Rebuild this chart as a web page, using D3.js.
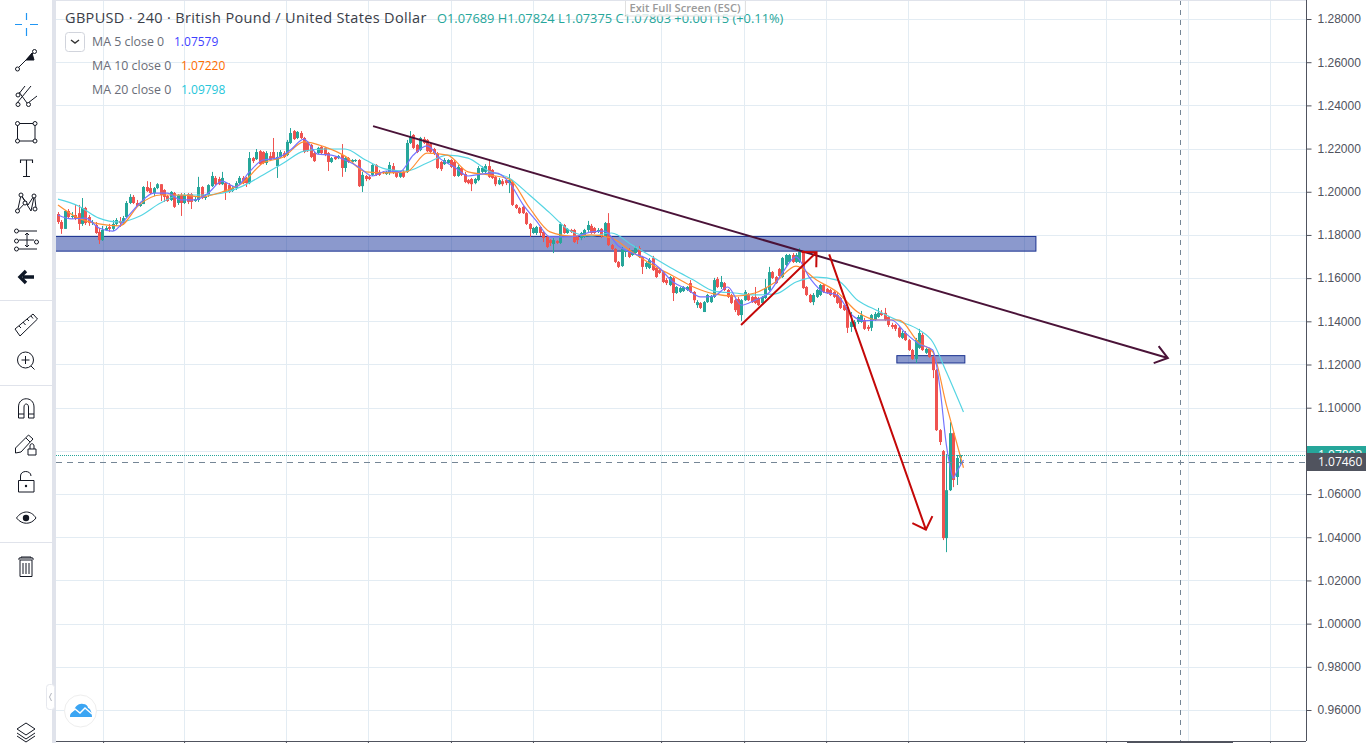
<!DOCTYPE html>
<html>
<head>
<meta charset="utf-8">
<title>GBPUSD 240</title>
<script src="https://cdn.jsdelivr.net/npm/d3@7/dist/d3.min.js"></script>
<style>
    html, body { margin: 0; padding: 0; background: #fff; overflow: hidden; }
    svg { display: block; font-family: "Open Sans", sans-serif; }
</style>
</head>
<body>
<div id="chart"></div>
<script>
// 4H candles, oldest first
var opens = [
    1.1897,1.1860,1.1828,1.1911,1.1883,1.1892,1.1901,1.1851,1.1925,1.1883,
    1.1855,1.1846,1.1814,1.1776,1.1823,1.1837,1.1828,1.1851,1.1865,1.1855,
    1.1883,1.1948,1.1976,1.1948,1.1934,1.1943,1.2022,1.2017,1.1994,1.2017,
    1.2035,1.2008,1.1980,1.1962,1.1994,1.1948,1.1985,1.1948,1.1989,1.1989,
    1.1957,1.1962,1.2022,1.1971,1.1985,1.2026,1.2064,1.2059,1.2035,1.2040,
    1.2031,1.2003,1.2017,1.2040,1.2064,1.2064,1.2040,1.2156,1.2151,1.2188,
    1.2184,1.2133,1.2165,1.2184,1.2119,1.2161,1.2179,1.2170,1.2226,1.2281,
    1.2249,1.2272,1.2249,1.2231,1.2217,1.2179,1.2179,1.2208,1.2203,1.2179,
    1.2138,1.2161,1.2156,1.2170,1.2110,1.2156,1.2138,1.2142,1.2147,1.2026,
    1.2073,1.2069,1.2078,1.2124,1.2092,1.2092,1.2082,1.2087,1.2119,1.2092,
    1.2069,1.2092,1.2092,1.2226,1.2263,1.2217,1.2193,1.2244,1.2240,1.2221,
    1.2198,1.2179,1.2138,1.2128,1.2133,1.2147,1.2138,1.2073,1.2110,1.2082,
    1.2054,1.2059,1.2040,1.2054,1.2092,1.2092,1.2119,1.2101,1.2069,1.2035,
    1.2049,1.2054,1.2040,1.2045,1.1939,1.1925,1.1930,1.1901,1.1851,1.1809,
    1.1809,1.1837,1.1814,1.1791,1.1776,1.1758,1.1772,1.1763,1.1846,1.1809,
    1.1823,1.1823,1.1791,1.1786,1.1791,1.1823,1.1842,1.1832,1.1818,1.1828,
    1.1795,1.1855,1.1753,1.1735,1.1675,1.1656,1.1721,1.1730,1.1707,1.1716,
    1.1739,1.1698,1.1652,1.1647,1.1693,1.1647,1.1637,1.1628,1.1591,1.1568,
    1.1601,1.1531,1.1536,1.1540,1.1545,1.1577,1.1536,1.1475,1.1485,1.1443,
    1.1489,1.1489,1.1513,1.1596,1.1559,1.1577,1.1545,1.1522,1.1498,1.1503,
    1.1429,1.1498,1.1522,1.1513,1.1513,1.1508,1.1485,1.1508,1.1545,1.1628,
    1.1605,1.1642,1.1605,1.1661,1.1675,1.1707,1.1675,1.1675,1.1721,1.1559,
    1.1522,1.1489,1.1513,1.1522,1.1568,1.1550,1.1545,1.1536,1.1522,1.1508,
    1.1475,1.1466,1.1374,1.1374,1.1397,1.1397,1.1406,1.1374,1.1370,1.1406,
    1.1420,1.1439,1.1439,1.1420,1.1383,1.1383,1.1370,1.1323,1.1346,1.1313,
    1.1267,1.1226,1.1277,1.1337,1.1254,1.1272,1.1235,1.1174,1.0896,1.0799,
    1.0396,1.0618,1.0882,1.0679,1.07689
];
var highs = [
    1.1906,1.1869,1.1915,1.1920,1.1906,1.1939,1.1939,1.1971,1.1930,1.1892,
    1.1869,1.1860,1.1832,1.1842,1.1842,1.1851,1.1869,1.1878,1.1883,1.1888,
    1.1957,1.1989,1.1985,1.1962,1.1953,1.2026,1.2049,1.2045,1.2022,1.2040,
    1.2035,1.2012,1.1985,1.2003,1.1999,1.1989,1.1994,1.1994,1.1994,1.1994,
    1.1976,1.2069,1.2026,1.1989,1.2035,1.2092,1.2073,1.2069,1.2092,1.2045,
    1.2040,1.2026,1.2049,1.2073,1.2073,1.2069,1.2184,1.2161,1.2198,1.2193,
    1.2188,1.2188,1.2184,1.2249,1.2184,1.2193,1.2188,1.2240,1.2295,1.2286,
    1.2281,1.2281,1.2254,1.2235,1.2221,1.2184,1.2208,1.2212,1.2208,1.2184,
    1.2161,1.2165,1.2170,1.2221,1.2165,1.2161,1.2151,1.2151,1.2151,1.2092,
    1.2078,1.2078,1.2128,1.2128,1.2101,1.2096,1.2096,1.2138,1.2133,1.2101,
    1.2092,1.2101,1.2240,1.2281,1.2267,1.2221,1.2254,1.2254,1.2244,1.2226,
    1.2203,1.2184,1.2142,1.2156,1.2151,1.2151,1.2147,1.2124,1.2115,1.2092,
    1.2059,1.2064,1.2064,1.2119,1.2119,1.2128,1.2147,1.2105,1.2073,1.2064,
    1.2059,1.2059,1.2082,1.2054,1.1943,1.1930,1.1934,1.1906,1.1855,1.1837,
    1.1842,1.1842,1.1818,1.1795,1.1781,1.1786,1.1776,1.1860,1.1851,1.1832,
    1.1828,1.1828,1.1795,1.1814,1.1828,1.1865,1.1851,1.1837,1.1832,1.1832,
    1.1860,1.1901,1.1758,1.1739,1.1679,1.1744,1.1730,1.1739,1.1730,1.1749,
    1.1749,1.1703,1.1675,1.1693,1.1703,1.1652,1.1642,1.1633,1.1601,1.1610,
    1.1605,1.1563,1.1559,1.1563,1.1563,1.1591,1.1540,1.1498,1.1489,1.1494,
    1.1527,1.1522,1.1601,1.1605,1.1610,1.1582,1.1550,1.1527,1.1503,1.1513,
    1.1503,1.1545,1.1531,1.1517,1.1559,1.1513,1.1517,1.1596,1.1652,1.1633,
    1.1610,1.1647,1.1698,1.1712,1.1712,1.1716,1.1716,1.1739,1.1730,1.1563,
    1.1527,1.1531,1.1550,1.1573,1.1573,1.1554,1.1550,1.1540,1.1531,1.1513,
    1.1480,1.1475,1.1443,1.1406,1.1429,1.1448,1.1416,1.1383,1.1434,1.1443,
    1.1462,1.1452,1.1462,1.1425,1.1393,1.1388,1.1379,1.1355,1.1355,1.1318,
    1.1272,1.1323,1.1365,1.1346,1.1277,1.1277,1.1240,1.1179,1.0901,1.0804,
    1.0785,1.0933,1.0887,1.0781,1.07824
];
var lows = [
    1.1851,1.1805,1.1828,1.1878,1.1874,1.1869,1.1823,1.1842,1.1846,1.1842,
    1.1846,1.1805,1.1758,1.1772,1.1818,1.1814,1.1818,1.1842,1.1837,1.1846,
    1.1878,1.1943,1.1943,1.1930,1.1930,1.1943,1.1999,1.1989,1.1980,1.2012,
    1.1957,1.1953,1.1953,1.1957,1.1925,1.1939,1.1888,1.1943,1.1943,1.1920,
    1.1953,1.1953,1.1966,1.1962,1.1976,1.2022,1.2031,1.2031,1.2031,1.1962,
    1.1994,1.1999,1.2008,1.2035,1.2035,1.2022,1.2035,1.2133,1.2147,1.2124,
    1.2128,1.2124,1.2142,1.2151,1.2064,1.2156,1.2156,1.2165,1.2221,1.2240,
    1.2244,1.2244,1.2179,1.2184,1.2156,1.2138,1.2174,1.2170,1.2165,1.2096,
    1.2133,1.2147,1.2151,1.2069,1.2092,1.2133,1.2133,1.2138,1.2022,1.1999,
    1.2049,1.2054,1.2073,1.2073,1.2073,1.2082,1.2078,1.2078,1.2082,1.2064,
    1.2064,1.2064,1.2087,1.2221,1.2198,1.2179,1.2188,1.2221,1.2184,1.2179,
    1.2170,1.2105,1.2096,1.2124,1.2128,1.2110,1.2069,1.2069,1.2073,1.2040,
    1.2035,1.2003,1.2035,1.2049,1.2087,1.2087,1.2064,1.2059,1.2026,1.2031,
    1.2026,1.2031,1.1994,1.1934,1.1920,1.1897,1.1897,1.1846,1.1791,1.1805,
    1.1800,1.1795,1.1767,1.1739,1.1749,1.1716,1.1758,1.1758,1.1805,1.1805,
    1.1809,1.1763,1.1758,1.1776,1.1786,1.1814,1.1805,1.1805,1.1809,1.1786,
    1.1791,1.1749,1.1730,1.1670,1.1647,1.1652,1.1698,1.1693,1.1703,1.1712,
    1.1693,1.1619,1.1642,1.1642,1.1633,1.1601,1.1619,1.1577,1.1568,1.1563,
    1.1494,1.1527,1.1531,1.1536,1.1540,1.1531,1.1485,1.1462,1.1457,1.1443,
    1.1485,1.1485,1.1508,1.1554,1.1550,1.1540,1.1508,1.1480,1.1443,1.1425,
    1.1402,1.1494,1.1494,1.1485,1.1480,1.1471,1.1480,1.1503,1.1540,1.1596,
    1.1573,1.1605,1.1601,1.1656,1.1670,1.1670,1.1670,1.1670,1.1550,1.1517,
    1.1485,1.1475,1.1508,1.1517,1.1531,1.1527,1.1517,1.1508,1.1480,1.1457,
    1.1448,1.1346,1.1351,1.1365,1.1388,1.1393,1.1360,1.1355,1.1355,1.1402,
    1.1416,1.1425,1.1402,1.1374,1.1365,1.1355,1.1323,1.1318,1.1309,1.1263,
    1.1221,1.1207,1.1272,1.1263,1.1249,1.1231,1.1137,1.0892,1.0827,1.0387,
    1.0331,1.0614,1.0632,1.0642,1.07375
];
var closes = [
    1.1860,1.1828,1.1911,1.1883,1.1888,1.1874,1.1851,1.1925,1.1855,1.1855,
    1.1860,1.1809,1.1776,1.1823,1.1832,1.1828,1.1851,1.1869,1.1855,1.1878,
    1.1948,1.1976,1.1948,1.1934,1.1943,1.2022,1.2003,1.1994,1.2017,1.2035,
    1.1985,1.1976,1.1957,1.1999,1.1930,1.1985,1.1948,1.1985,1.1953,1.1953,
    1.1966,1.2022,1.1971,1.1980,1.2031,1.2073,1.2035,1.2035,1.2064,1.1999,
    1.1999,1.2017,1.2040,1.2064,1.2040,1.2040,1.2156,1.2142,1.2184,1.2128,
    1.2133,1.2179,1.2147,1.2156,1.2161,1.2184,1.2161,1.2231,1.2272,1.2244,
    1.2277,1.2249,1.2184,1.2188,1.2161,1.2142,1.2203,1.2179,1.2170,1.2138,
    1.2156,1.2151,1.2165,1.2110,1.2156,1.2138,1.2147,1.2147,1.2026,1.2078,
    1.2059,1.2059,1.2124,1.2078,1.2078,1.2087,1.2092,1.2124,1.2087,1.2069,
    1.2087,1.2069,1.2226,1.2254,1.2203,1.2184,1.2249,1.2226,1.2188,1.2184,
    1.2179,1.2110,1.2105,1.2147,1.2147,1.2115,1.2073,1.2115,1.2078,1.2045,
    1.2040,1.2035,1.2059,1.2110,1.2110,1.2119,1.2069,1.2064,1.2035,1.2054,
    1.2035,1.2040,1.2054,1.1939,1.1925,1.1901,1.1901,1.1851,1.1828,1.1832,
    1.1837,1.1809,1.1786,1.1744,1.1763,1.1776,1.1763,1.1851,1.1809,1.1828,
    1.1814,1.1767,1.1776,1.1809,1.1823,1.1846,1.1809,1.1809,1.1823,1.1795,
    1.1855,1.1753,1.1735,1.1675,1.1652,1.1735,1.1726,1.1698,1.1721,1.1739,
    1.1698,1.1652,1.1670,1.1684,1.1637,1.1605,1.1624,1.1582,1.1577,1.1605,
    1.1531,1.1559,1.1554,1.1559,1.1559,1.1536,1.1498,1.1489,1.1462,1.1489,
    1.1522,1.1517,1.1591,1.1559,1.1582,1.1545,1.1513,1.1485,1.1452,1.1429,
    1.1498,1.1536,1.1498,1.1489,1.1485,1.1475,1.1513,1.1554,1.1628,1.1601,
    1.1577,1.1610,1.1693,1.1707,1.1707,1.1675,1.1707,1.1721,1.1554,1.1522,
    1.1489,1.1522,1.1545,1.1568,1.1536,1.1531,1.1522,1.1513,1.1485,1.1462,
    1.1452,1.1370,1.1397,1.1397,1.1420,1.1429,1.1365,1.1365,1.1429,1.1434,
    1.1439,1.1429,1.1406,1.1383,1.1374,1.1365,1.1328,1.1346,1.1313,1.1267,
    1.1226,1.1313,1.1346,1.1267,1.1272,1.1235,1.1174,1.0896,1.0841,1.0396,
    1.0618,1.0882,1.0665,1.0767,1.07803
];

// moving averages, read at every few bars
var ma5Bars = [0,4,8,12,16,20,24,28,32,36,40,44,48,52,56,60,64,68,72,76,80,84,88,92,96,100,104,108,112,116,120,124,128,132,136,140,144,148,152,156,160,164,168,172,176,180,184,188,192,196,200,204,208,212,216,220,224,228,232,236,240,244,248,252,256,258,260,261,262,263,265];
var ma5Values = [
    1.1892,1.1874,1.1878,1.1832,1.1818,1.1878,1.1948,1.1994,1.1994,1.1962,
    1.1962,1.1994,1.2049,1.2022,1.2092,1.2147,1.2156,1.2193,1.2244,1.2174,
    1.2170,1.2147,1.2115,1.2073,1.2096,1.2092,1.2170,1.2212,1.2151,1.2115,
    1.2073,1.2082,1.2087,1.2045,1.1943,1.1865,1.1791,1.1791,1.1795,1.1814,
    1.1818,1.1749,1.1716,1.1693,1.1647,1.1582,1.1550,1.1513,1.1517,1.1559,
    1.1475,1.1498,1.1531,1.1624,1.1698,1.1601,1.1536,1.1522,1.1434,1.1402,
    1.1406,1.1406,1.1346,1.1295,1.1267,1.1105,1.0827,1.0734,1.0674,1.0702,
    1.07579
];
var maBars = [0,6,12,18,24,30,36,42,48,54,60,66,72,78,84,90,96,102,108,114,120,126,132,138,144,150,156,162,168,174,180,186,192,198,204,210,216,222,228,234,240,246,252,256,260,265];
var ma10Values = [
    1.1939,1.1878,1.1851,1.1842,1.1943,1.1985,1.1985,1.1976,1.1999,1.2040,
    1.2133,1.2161,1.2231,1.2208,1.2165,1.2092,1.2087,1.2092,1.2179,1.2170,
    1.2092,1.2078,1.2059,1.1925,1.1814,1.1795,1.1800,1.1786,1.1721,1.1661,
    1.1610,1.1559,1.1527,1.1517,1.1531,1.1582,1.1656,1.1591,1.1536,1.1443,
    1.1406,1.1406,1.1300,1.1258,1.1012,1.0722
];
var ma20Values = [
    1.1966,1.1934,1.1878,1.1860,1.1888,1.1948,1.1985,1.1985,1.1994,1.2026,
    1.2078,1.2133,1.2188,1.2198,1.2198,1.2147,1.2105,1.2096,1.2133,1.2170,
    1.2156,1.2096,1.2064,1.1985,1.1901,1.1818,1.1795,1.1809,1.1753,1.1698,
    1.1642,1.1591,1.1540,1.1531,1.1522,1.1527,1.1582,1.1605,1.1591,1.1498,
    1.1448,1.1402,1.1360,1.1304,1.1165,1.09798
];

// axes
var priceTicks = [1.28,1.26,1.24,1.22,1.20,1.18,1.16,1.14,1.12,1.10,1.08,1.06,1.04,1.02,1.00,0.98,0.96];
var gridBars = [13.2,36.9,66.7,90.7,115,139,176.5,200.8,224.8,248.8,282.7,306.7,330.7,354.7];

// drawings on the chart, bar / price
var zones = [
    {bars: [-10, 286.2], prices: [1.1793, 1.1725]},
    {bars: [245.5, 265.4], prices: [1.1241, 1.1207]}
];
var arrows = [
    {bars: [92.2, 324.8], prices: [1.2304, 1.1230], color: "#4a1338", spread: 36},
    {bars: [199.9, 222], prices: [1.1383, 1.1720], color: "#c40808", spread: 45},
    {bars: [225.7, 254], prices: [1.1710, 1.0435], color: "#c40808", spread: 45}
];
var lastPrice = 1.07803;
var crossPrice = 1.0746;
var crossBar = 328.3;

var w = 1366,
    h = 743,
    chartLeft = 56,
    chartRight = 1306,
    chartBottom = 741;

var x = d3.scaleLinear().domain([0, 355]).range([58, 1271]);
var y = d3.scaleLinear().domain([1.28, 0.96]).range([19, 710]);

var svg = d3.select("#chart").append("svg").attr("width", w).attr("height", h);

svg.append("clipPath").attr("id", "plot")
    .append("rect").attr("x", chartLeft).attr("y", 0)
    .attr("width", chartRight - chartLeft).attr("height", chartBottom);

var plot = svg.append("g").attr("clip-path", "url(#plot)");

// grid
plot.selectAll("line.hgrid").data(priceTicks).enter().append("line")
    .attr("class", "hgrid")
    .attr("x1", chartLeft).attr("x2", chartRight)
    .attr("y1", function (d) { return Math.round(y(d)) + 0.5; })
    .attr("y2", function (d) { return Math.round(y(d)) + 0.5; })
    .attr("stroke", "#e3ecf3");
plot.selectAll("line.vgrid").data(gridBars).enter().append("line")
    .attr("class", "vgrid")
    .attr("x1", function (d) { return Math.round(x(d)) + 0.5; })
    .attr("x2", function (d) { return Math.round(x(d)) + 0.5; })
    .attr("y1", 0).attr("y2", chartBottom)
    .attr("stroke", "#e3ecf3");

// blue zones
plot.selectAll("rect.zone").data(zones).enter().append("rect")
    .attr("class", "zone")
    .attr("x", function (d) { return x(d.bars[0]); })
    .attr("width", function (d) { return x(d.bars[1]) - x(d.bars[0]); })
    .attr("y", function (d) { return y(d.prices[0]); })
    .attr("height", function (d) { return y(d.prices[1]) - y(d.prices[0]); })
    .attr("fill", "#18349b")
    .attr("fill-opacity", 0.5)
    .attr("stroke", "#1a3190")
    .attr("stroke-width", 1);

// candles
var candles = plot.selectAll("g.candle").data(d3.range(opens.length)).enter().append("g")
    .attr("class", "candle")
    .attr("fill", function (i) { return closes[i] >= opens[i] ? "#26a69a" : "#ef5350"; });
candles.append("rect")
    .attr("x", function (i) { return Math.round(x(i)); })
    .attr("width", 1)
    .attr("y", function (i) { return y(highs[i]); })
    .attr("height", function (i) { return y(lows[i]) - y(highs[i]); });
candles.append("rect")
    .attr("x", function (i) { return Math.round(x(i)) - 1; })
    .attr("width", 3)
    .attr("y", function (i) { return y(Math.max(opens[i], closes[i])); })
    .attr("height", function (i) { return Math.max(1, Math.abs(y(opens[i]) - y(closes[i]))); });

// moving averages
var maLine = d3.line()
    .x(function (d) { return x(d[0]); })
    .y(function (d) { return y(d[1]); })
    .curve(d3.curveMonotoneX);

[[maBars, ma20Values, "#56d5e3", 1.2], [maBars, ma10Values, "#ff8f33", 1.2], [ma5Bars, ma5Values, "#7474ff", 1.2]].forEach(function (s) {
    plot.append("path")
        .attr("d", maLine(d3.zip(s[0], s[1])))
        .attr("fill", "none")
        .attr("stroke", s[2])
        .attr("stroke-width", s[3]);
});

// price and crosshair lines
plot.append("line")
    .attr("x1", chartLeft).attr("x2", chartRight)
    .attr("y1", Math.floor(y(lastPrice)) + 0.5).attr("y2", Math.floor(y(lastPrice)) + 0.5)
    .attr("stroke", "#26a69a").attr("stroke-dasharray", "1,1");
plot.append("line")
    .attr("x1", chartLeft).attr("x2", chartRight)
    .attr("y1", Math.floor(y(crossPrice)) + 0.5).attr("y2", Math.floor(y(crossPrice)) + 0.5)
    .attr("stroke", "#758696").attr("stroke-dasharray", "6,5");
plot.append("line")
    .attr("x1", Math.round(x(crossBar)) + 0.5).attr("x2", Math.round(x(crossBar)) + 0.5)
    .attr("y1", 0).attr("y2", chartBottom)
    .attr("stroke", "#758696").attr("stroke-dasharray", "5,5");

// trend line and red arrows with open heads
arrows.forEach(function (a) {
    var x1 = x(a.bars[0]), y1 = y(a.prices[0]), x2 = x(a.bars[1]), y2 = y(a.prices[1]);
    var angle = Math.atan2(y1 - y2, x1 - x2);
    var spread = a.spread * Math.PI / 180;
    var head = d3.path();
    head.moveTo(x1, y1);
    head.lineTo(x2, y2);
    head.moveTo(x2 + 15 * Math.cos(angle + spread), y2 + 15 * Math.sin(angle + spread));
    head.lineTo(x2, y2);
    head.lineTo(x2 + 15 * Math.cos(angle - spread), y2 + 15 * Math.sin(angle - spread));
    plot.append("path")
        .attr("d", head.toString())
        .attr("fill", "none")
        .attr("stroke", a.color)
        .attr("stroke-width", 2);
});

// right and bottom axes, the 1.08 label sits behind the price tags
var axisRight = d3.axisRight(y).tickValues(priceTicks).tickSize(5).tickPadding(6)
    .tickFormat(function (d) { return d === 1.08 ? "" : d3.format(".5f")(d); });
var gRight = svg.append("g").attr("transform", "translate(" + (chartRight + 0.5) + ",0)").call(axisRight);
gRight.select(".domain").attr("d", "M0,0V" + chartBottom).attr("stroke", "#50535e");
gRight.selectAll("line").attr("stroke", "#50535e");
gRight.selectAll("text").attr("fill", "#50535e").style("font-size", "12px").style("font-family", "inherit");

var axisBottom = d3.axisBottom(x).tickValues(gridBars).tickSize(3).tickFormat("");
var gBottom = svg.append("g").attr("transform", "translate(0," + (chartBottom + 0.5) + ")").call(axisBottom);
gBottom.select(".domain").attr("d", "M" + chartLeft + ",0H" + chartRight).attr("stroke", "#50535e");
gBottom.selectAll("line").attr("stroke", "#50535e");
svg.append("rect").attr("x", 1127).attr("y", 741).attr("width", 106).attr("height", 2).attr("fill", "#50535e");

// price labels
svg.append("rect").attr("x", chartRight + 1).attr("y", 446).attr("width", 59).attr("height", 18).attr("fill", "#26a69a");
svg.append("text").attr("x", 1318).attr("y", 459).attr("fill", "#fff").style("font-size", "12px").text(d3.format(".5f")(lastPrice));
svg.append("rect").attr("x", chartRight + 1).attr("y", 453).attr("width", 59).attr("height", 18).attr("fill", "#50535e");
svg.append("text").attr("x", 1318).attr("y", 466).attr("fill", "#fff").style("font-size", "12px").text(d3.format(".5f")(crossPrice));

// legend
var legend = svg.append("g");
legend.append("text").attr("x", 65).attr("y", 23).attr("fill", "#3a3d47")
    .style("font-size", "14.5px").style("letter-spacing", "0.34px")
    .text("GBPUSD · 240 · British Pound / United States Dollar");
legend.append("text").attr("x", 437).attr("y", 23).attr("fill", "#26a69a").style("font-size", "12.85px")
    .text("O1.07689 H1.07824 L1.07375 C1.07803 +0.00115 (+0.11%)");
legend.append("rect").attr("x", 65.5).attr("y", 32.5).attr("width", 19).attr("height", 19).attr("rx", 3)
    .attr("fill", "#fff").attr("stroke", "#d1d4dc");
legend.append("path").attr("d", "M71,40l4,3l4,-3").attr("fill", "none").attr("stroke", "#333").attr("stroke-width", 1.4);

var maRows = [
    {label: "MA 5 close 0", value: "1.07579", color: "#3f3fff", y: 46, vx: 174},
    {label: "MA 10 close 0", value: "1.07220", color: "#ff6d00", y: 70, vx: 181},
    {label: "MA 20 close 0", value: "1.09798", color: "#26c6da", y: 94, vx: 181}
];
maRows.forEach(function (r) {
    legend.append("text").attr("x", 92).attr("y", r.y).attr("fill", "#6a6d78").style("font-size", "12.4px").text(r.label);
    legend.append("text").attr("x", r.vx).attr("y", r.y).attr("fill", r.color).style("font-size", "12px").text(r.value);
});

// full screen hint
svg.append("rect").attr("x", 625.5).attr("y", -2).attr("width", 120).attr("height", 18).attr("rx", 2)
    .attr("fill", "#fff").attr("fill-opacity", 0.82).attr("stroke", "#e0e0e0");
svg.append("text").attr("x", 685).attr("y", 12).attr("text-anchor", "middle").attr("fill", "#9a9a9a")
    .style("font-size", "11.2px").style("font-weight", 600).text("Exit Full Screen (ESC)");

// left toolbar
var bar = svg.append("g");
bar.append("rect").attr("x", 0).attr("y", 0).attr("width", 52).attr("height", h).attr("fill", "#fff");
bar.append("rect").attr("x", 52).attr("y", 0).attr("width", 4).attr("height", h).attr("fill", "#e0e3eb");
svg.append("rect").attr("x", 56).attr("y", 0).attr("width", chartRight - 56).attr("height", 1).attr("fill", "#e0e3eb");
[300, 385, 542].forEach(function (sy) {
    bar.append("rect").attr("x", 0).attr("y", sy).attr("width", 52).attr("height", 1).attr("fill", "#e0e3eb");
});

var ink = "#131722";
function icon(d, opts) {
    opts = opts || {};
    bar.append("path").attr("d", d)
        .attr("fill", opts.fill || "none")
        .attr("stroke", opts.stroke || ink)
        .attr("stroke-width", opts.width || 1);
}
function dot(cx, cy, r) {
    bar.append("circle").attr("cx", cx).attr("cy", cy).attr("r", r || 2)
        .attr("fill", "#fff").attr("stroke", ink);
}

// cursor
icon("M15,24.5H22M30,24.5H38M26.5,13V20M26.5,28V36", {stroke: "#2196f3", width: 1.2});
// trend line
icon("M19,67L33,53"); icon("M26,60L32,53L34,60Z", {fill: ink});
dot(17.5, 69); dot(34.5, 51.5);
// fib fork
icon("M17,103L31,86M28,103L37,96M19,92L27,103M18,95L25,86");
dot(18, 104.5); dot(28.5, 104.5); dot(18, 95);
// rectangle
icon("M17.5,123.5H35V141H17.5Z"); dot(17.5, 123.5); dot(35, 123.5); dot(17.5, 141); dot(35, 141);
// text
icon("M20.5,163V160H32.5V163M26.5,160V176.5M23,176.5H30", {width: 1.1});
// pattern
icon("M17.5,211L21,195L31,211L34.5,195L36,208M21,195L28,205L34.5,195M17.5,211L27,201");
dot(17.5, 211); dot(21, 195); dot(35, 209); dot(34, 196); dot(25, 203);
// forecast lines
icon("M19,231H37M19,240H34M19,249H37M27,233V247M25,235L27,233L29,235M25,245L27,247L29,245");
dot(16.5, 231); dot(16.5, 241); dot(16.5, 249); dot(36.5, 242);
// back arrow
icon("M34,277H23M26,271L20,277L26,283", {width: 3.4, stroke: "#0e1726"});
// ruler
icon("M15,329L33,314L37.5,319L20,336Z M19,326L21,328M23,322L25.5,325M27,319L29,321M31,316L33,318.5");
// zoom
bar.append("circle").attr("cx", 25.5).attr("cy", 360).attr("r", 8).attr("fill", "none").attr("stroke", ink);
icon("M21.5,360H29.5M25.5,356V364M31,366L34.5,369.5");
// magnet
icon("M18.5,418V407C18.5,396 34,396 34,407V418H28.5V407C28.5,403 24,403 24,407V418ZM18.5,414H24M28.5,414H34");
// pencil and small lock
icon("M15.5,448L28.5,435L33,439L21,452L15.5,453ZM26,438L30,442");
icon("M28,449H36V455H28ZM30,449V446C30,443 34,443 34,446V449");
// lock
icon("M18.5,480.5H34V492H18.5ZM20.5,480.5V476C20.5,470 31,470 31,476");
bar.append("circle").attr("cx", 26).attr("cy", 486).attr("r", 1.2).attr("fill", ink);
// eye
icon("M16.5,518C22,510 31,510 36,518C31,525 22,525 16.5,518Z");
bar.append("circle").attr("cx", 26).attr("cy", 518).attr("r", 3.2).attr("fill", ink);
// trash
icon("M20,560H32V576.5H20ZM19,560V558H33V560M21,558V557H31V558M23,563V574M26,563V574M29,563V574");
// layers
icon("M17,729L26,723L35,729L26,735ZM17,733L26,739L35,733M17,736L26,742L35,736");

// collapse handle
svg.append("rect").attr("x", 46.5).attr("y", 684.5).attr("width", 8).attr("height", 25).attr("rx", 3)
    .attr("fill", "#fff").attr("stroke", "#e6e8ee");
svg.append("path").attr("d", "M51.5,693L49.5,697L51.5,701").attr("fill", "none").attr("stroke", "#b2b5be");

// logo
svg.append("circle").attr("cx", 80.5).attr("cy", 711).attr("r", 16).attr("fill", "#fff").attr("stroke", "#eeeeee").attr("stroke-width", 1);
svg.append("path")
    .attr("d", "M70,717C70,713 72,711 74,711C75,706 79,703 83,704C86,704 88,706 88,708C90,708 92,712 92,717Z")
    .attr("fill", "#3ba5f3");
svg.append("path")
    .attr("d", "M69,714L75,709L80,713L85,708L92,714")
    .attr("fill", "none").attr("stroke", "#fff").attr("stroke-width", 1.4);
</script>
</body>
</html>
